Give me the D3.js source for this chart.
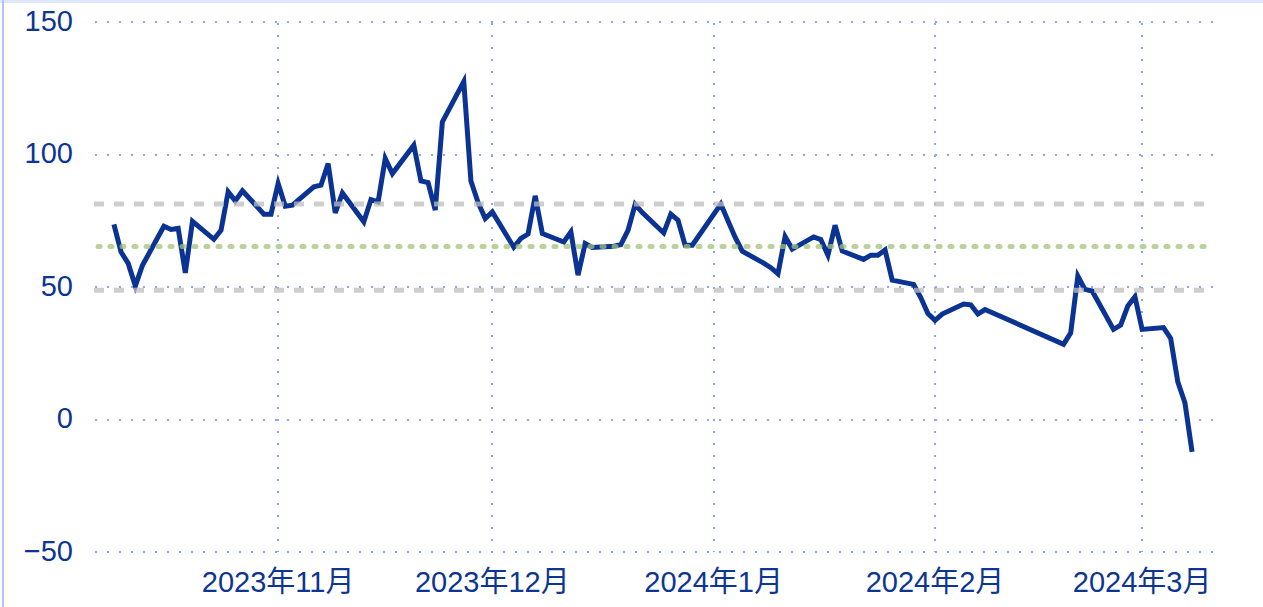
<!DOCTYPE html>
<html>
<head>
<meta charset="utf-8">
<script src="https://cdn.jsdelivr.net/npm/d3@7"></script>
<style>
  html, body { margin: 0; padding: 0; background: #ffffff; }
  svg { display: block; }
  text { font-family: "Liberation Sans", Arial, "Noto Sans CJK SC", sans-serif; }
</style>
</head>
<body>
<script>
const dates = [
  "2023-10-09","2023-10-10","2023-10-11","2023-10-12","2023-10-13",
  "2023-10-16","2023-10-17","2023-10-18","2023-10-19","2023-10-20",
  "2023-10-23","2023-10-24","2023-10-25","2023-10-26","2023-10-27",
  "2023-10-30","2023-10-31","2023-11-01","2023-11-02","2023-11-03",
  "2023-11-06","2023-11-07","2023-11-08","2023-11-09","2023-11-10",
  "2023-11-13","2023-11-14","2023-11-15","2023-11-16","2023-11-17",
  "2023-11-20","2023-11-21","2023-11-22","2023-11-23","2023-11-24",
  "2023-11-27","2023-11-28","2023-11-29","2023-11-30","2023-12-01",
  "2023-12-04","2023-12-05","2023-12-06","2023-12-07","2023-12-08",
  "2023-12-11","2023-12-12","2023-12-13","2023-12-14","2023-12-15",
  "2023-12-18","2023-12-19","2023-12-20","2023-12-21","2023-12-22",
  "2023-12-25","2023-12-26","2023-12-27","2023-12-28","2023-12-29",
  "2024-01-02","2024-01-03","2024-01-04","2024-01-05",
  "2024-01-08","2024-01-09","2024-01-10","2024-01-11","2024-01-12",
  "2024-01-15","2024-01-16","2024-01-17","2024-01-18","2024-01-19",
  "2024-01-22","2024-01-23","2024-01-24","2024-01-25","2024-01-26",
  "2024-01-29","2024-01-30","2024-01-31","2024-02-01","2024-02-02",
  "2024-02-05","2024-02-06","2024-02-07","2024-02-08",
  "2024-02-19","2024-02-20","2024-02-21","2024-02-22","2024-02-23",
  "2024-02-26","2024-02-27","2024-02-28","2024-02-29","2024-03-01",
  "2024-03-04","2024-03-05","2024-03-06","2024-03-07","2024-03-08"
];
const values = [
  73.6, 63.2, 58.9, 50.4, 58.2,
  72.9, 71.7, 72.1, 55.3, 74.8,
  68.0, 71.4, 85.9, 82.5, 86.3,
  77.5, 77.5, 89.1, 80.5, 80.9,
  87.8, 88.4, 96.6, 78.0, 85.5,
  74.6, 83.0, 82.1, 98.5, 92.8,
  103.5, 90.0, 89.4, 79.0, 112.3,
  127.5, 90.0, 81.9, 75.8, 78.3,
  65.0, 68.3, 70.0, 84.4, 70.2,
  67.0, 70.8, 54.5, 66.4, 64.9,
  65.4, 66.0, 71.4, 81.2, 78.1,
  70.4, 77.5, 75.2, 65.8, 65.8,
  81.3, 75.0, 68.8, 63.5,
  59.0, 57.3, 55.0, 69.0, 64.3,
  68.9, 67.9, 62.0, 73.3, 63.6,
  60.4, 62.0, 62.0, 64.0, 52.6,
  51.0, 46.0, 40.0, 37.4, 39.8,
  43.6, 43.3, 39.8, 41.5,
  28.4, 32.7, 54.1, 49.1, 48.5,
  34.0, 35.6, 42.8, 46.3, 34.0,
  34.7, 30.6, 14.2, 6.3, -12.2
];
const yTicks = [150, 100, 50, 0, -50];
const xTickDates = ["2023-11-01","2023-12-01","2024-01-01","2024-02-01","2024-03-01"];
const xTickLabels = ["2023年11月","2023年12月","2024年1月","2024年2月","2024年3月"];
const bandValues = [81.3, 48.8];
const meanValue = 65.3;

const W = 1263, H = 607;
const plot = { left: 95, right: 1211, top: 22, bottom: 552 };
const parse = d3.utcParse("%Y-%m-%d");
const data = dates.map((d, i) => ({ date: parse(d), value: values[i] }));

const padDays = 2.65;
const dayMs = 86400000;
const ext = d3.extent(data, d => d.date);
const x = d3.scaleUtc()
  .domain([new Date(+ext[0] - padDays * dayMs), new Date(+ext[1] + padDays * dayMs)])
  .range([plot.left, plot.right]);
const y = d3.scaleLinear().domain([-50, 150]).range([plot.bottom, plot.top]);

const svg = d3.select("body").append("svg").attr("width", W).attr("height", H);
svg.append("rect").attr("width", W).attr("height", H).attr("fill", "#ffffff");

// frame accents
svg.append("rect").attr("x", 0).attr("y", 0).attr("width", W).attr("height", 3).attr("fill", "#dfe7fb");
svg.append("rect").attr("x", 2).attr("y", 0).attr("width", 2).attr("height", H).attr("fill", "#b3c4ee");

const gridColor = "#88a6f8";
// horizontal grid
svg.append("g").selectAll("line").data(yTicks).join("line")
  .attr("x1", plot.left).attr("x2", plot.right + 3)
  .attr("y1", d => Math.round(y(d))).attr("y2", d => Math.round(y(d)))
  .attr("stroke", gridColor).attr("stroke-width", 2)
  .attr("stroke-dasharray", "2 10");
// vertical grid
const xTicks = xTickDates.map(parse);
svg.append("g").selectAll("line").data(xTicks).join("line")
  .attr("x1", d => Math.round(x(d))).attr("x2", d => Math.round(x(d)))
  .attr("y1", plot.top + 1).attr("y2", plot.bottom)
  .attr("stroke", gridColor).attr("stroke-width", 2)
  .attr("stroke-dasharray", "2 10");

// main line
const line = d3.line().x(d => x(d.date)).y(d => y(d.value));
svg.append("path").datum(data)
  .attr("d", line)
  .attr("fill", "none")
  .attr("stroke", "#0b3393")
  .attr("stroke-width", 5)
  .attr("stroke-linejoin", "miter");

// reference lines
svg.append("g").selectAll("line").data(bandValues).join("line")
  .attr("x1", plot.left - 1).attr("x2", plot.right)
  .attr("y1", d => y(d)).attr("y2", d => y(d))
  .attr("stroke", "rgba(190,190,190,0.75)").attr("stroke-width", 5)
  .attr("stroke-dasharray", "10 10");
svg.append("line")
  .attr("x1", plot.left + 3).attr("x2", plot.right)
  .attr("y1", y(meanValue)).attr("y2", y(meanValue))
  .attr("stroke", "rgba(160,195,120,0.75)").attr("stroke-width", 5)
  .attr("stroke-linecap", "round")
  .attr("stroke-dasharray", "2 10");

const textColor = "#0d3592";
// y labels
svg.append("g").selectAll("text").data(yTicks).join("text")
  .attr("x", 73).attr("y", d => y(d)).attr("dy", "0.3em")
  .attr("text-anchor", "end")
  .attr("font-size", 29)
  .attr("fill", textColor)
  .text(d => d < 0 ? "\u2212" + Math.abs(d) : String(d));
// x labels
svg.append("g").selectAll("text").data(xTicks).join("text")
  .attr("x", d => x(d)).attr("y", plot.bottom + 39.5)
  .attr("text-anchor", "middle")
  .attr("font-size", 29)
  .attr("fill", textColor)
  .text((d, i) => xTickLabels[i]);
</script>
</body>
</html>
